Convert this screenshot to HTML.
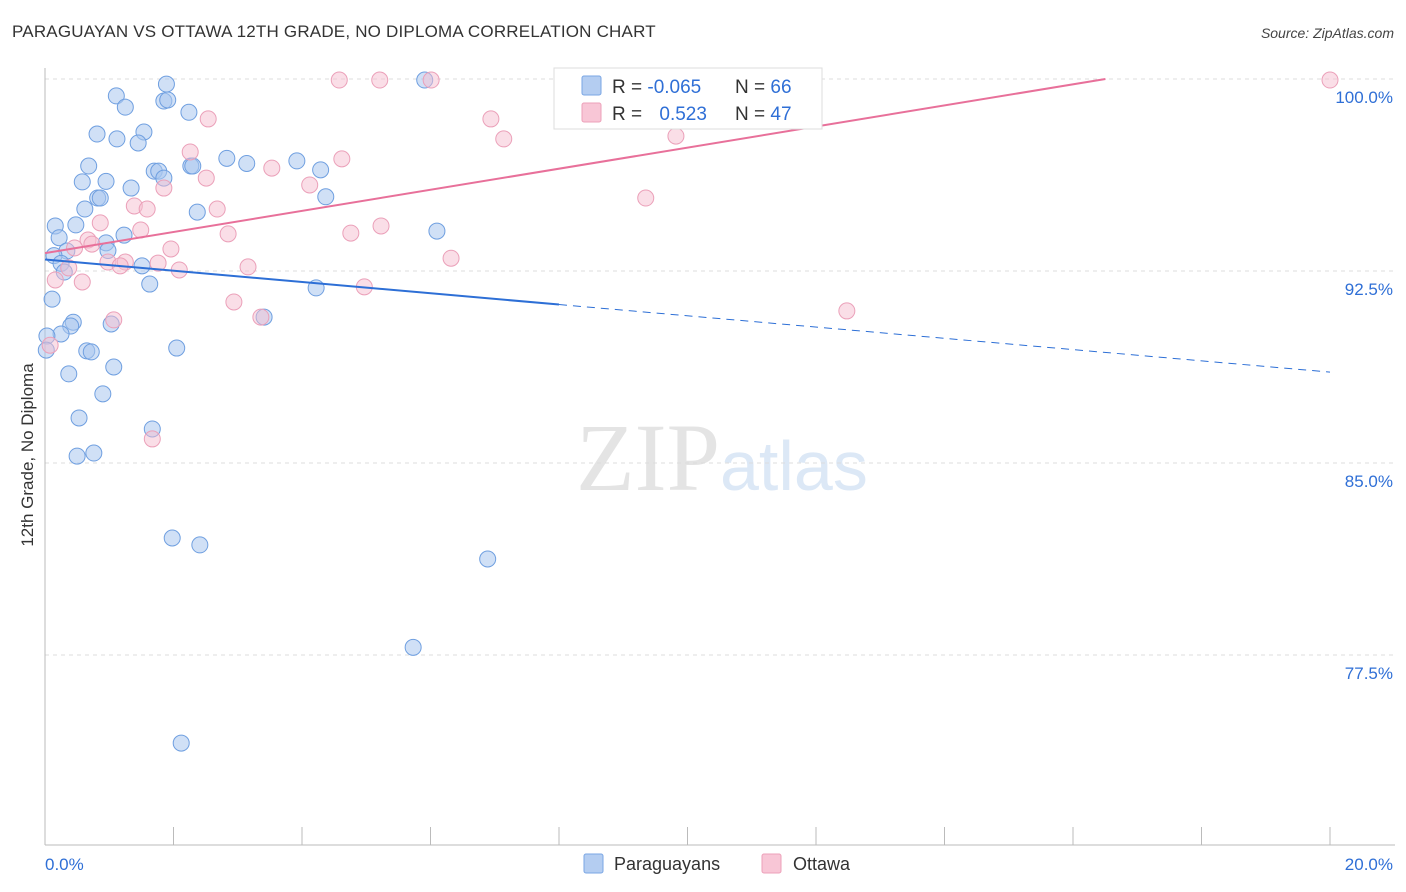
<!DOCTYPE html>
<html><head><meta charset="utf-8">
<style>
body{margin:0;background:#fff;font-family:"Liberation Sans",sans-serif;}
#wrap{position:relative;width:1406px;height:892px;overflow:hidden;}
.title{position:absolute;left:12px;top:22px;font-size:17px;color:#333;letter-spacing:0.2px}
.source{position:absolute;right:12px;top:25px;font-size:14px;color:#444;font-style:italic}
</style></head><body>
<div id="wrap">
<div class="title">PARAGUAYAN VS OTTAWA 12TH GRADE, NO DIPLOMA CORRELATION CHART</div>
<div class="source">Source: ZipAtlas.com</div>
<svg id="svg" width="1406" height="892" style="position:absolute;left:0;top:0">
<text x="720" y="490" font-family="Liberation Serif" font-size="96" fill="#e4e4e4" text-anchor="end">ZIP</text>
<text x="720" y="490" font-family="Liberation Sans" font-size="70" fill="#dce8f6">atlas</text>
<g id="grid"></g><g id="axes"></g><g id="pts"></g><g id="lines"></g>
<text x="33" y="455" transform="rotate(-90 33 455)" font-size="17" fill="#333" text-anchor="middle">12th Grade, No Diploma</text>
<g>
<rect x="554" y="68" width="268" height="61" fill="#fff" stroke="#ddd"/>
<rect x="582" y="76" width="19" height="19" fill="#b4cdf1" stroke="#7aa6e4" rx="2"/>
<rect x="582" y="103" width="19" height="19" fill="#f8c6d6" stroke="#eda0b9" rx="2"/>
<text x="612" y="93" font-size="19" fill="#333">R = <tspan fill="#2f6fd6">-0.065</tspan></text>
<text x="735" y="93" font-size="19" fill="#333">N = <tspan fill="#2f6fd6">66</tspan></text>
<text x="612" y="120" font-size="19" fill="#333">R = <tspan fill="#2f6fd6" dx="12">0.523</tspan></text>
<text x="735" y="120" font-size="19" fill="#333">N = <tspan fill="#2f6fd6">47</tspan></text>
</g>
<g>
<rect x="584" y="854" width="19" height="19" fill="#b4cdf1" stroke="#7aa6e4" rx="2"/>
<text x="614" y="870" font-size="18" fill="#333">Paraguayans</text>
<rect x="762" y="854" width="19" height="19" fill="#f8c6d6" stroke="#eda0b9" rx="2"/>
<text x="793" y="870" font-size="18" fill="#333">Ottawa</text>
</g>
</svg>
</div>
<script>
const blueX=[1.89,1.11,1.85,1.91,1.25,2.24,0.81,1.12,1.54,1.45,0.68,1.70,1.77,1.85,2.27,2.30,2.83,3.14,3.92,4.29,0.58,0.95,1.34,0.82,0.86,0.62,2.37,4.37,0.16,0.48,0.22,1.23,6.10,0.95,0.98,0.34,0.14,0.25,0.30,1.51,1.63,4.22,0.11,0.44,0.40,3.41,1.03,0.25,0.03,0.02,2.05,0.65,0.72,1.07,0.37,0.90,0.53,1.67,0.50,0.76,1.98,2.41,6.89,5.73,2.12,5.91];
const blueY=[99.8,99.34,99.14,99.18,98.9,98.7,97.85,97.66,97.93,97.5,96.6,96.4,96.4,96.13,96.6,96.6,96.9,96.7,96.8,96.45,95.98,96.0,95.74,95.35,95.35,94.92,94.8,95.4,94.26,94.3,93.8,93.9,94.06,93.6,93.3,93.28,93.1,92.8,92.46,92.7,91.99,91.84,91.4,90.5,90.35,90.7,90.43,90.04,89.96,89.41,89.49,89.38,89.34,88.75,88.48,87.7,86.76,86.33,85.27,85.39,82.07,81.8,81.25,77.8,74.06,99.96];
const pinkX=[4.58,5.21,6.01,11.52,20.0,8.3,2.54,6.94,7.14,9.82,2.26,4.62,3.53,2.51,4.12,1.85,9.35,1.39,1.59,2.68,0.86,5.23,1.49,2.85,4.76,0.67,0.46,0.73,1.96,6.32,0.98,1.25,1.76,1.17,0.37,2.09,3.16,0.16,0.58,4.97,2.94,3.36,1.07,12.48,0.08,1.67];
const pinkY=[99.96,99.96,99.96,99.96,99.96,100,98.44,98.44,97.66,97.77,97.15,96.88,96.52,96.13,95.86,95.74,95.35,95.04,94.92,94.92,94.38,94.26,94.1,93.95,93.98,93.71,93.4,93.55,93.36,93.0,92.85,92.85,92.81,92.7,92.62,92.54,92.66,92.15,92.07,91.88,91.29,90.7,90.59,90.94,89.6,85.94];
const yTicks=[100,92.5,85,77.5];
const yTickLabels=["100.0%","92.5%","85.0%","77.5%"];
const xTicks=[0,2,4,6,8,10,12,14,16,18,20];
const blueTrend=[92.95,88.55]; // value at x=0, x=20
const pinkTrend=[93.2,0.412]; // intercept, slope
const X=v=>45+v*64.25, Y=v=>79+(100-v)*25.6;
const NS="http://www.w3.org/2000/svg";
function mk(tag,attrs,parent){const e=document.createElementNS(NS,tag);for(const k in attrs)e.setAttribute(k,attrs[k]);document.getElementById(parent).appendChild(e);return e;}
yTicks.forEach((t,i)=>{
 const l=mk('line',{x1:45,x2:1395,y1:Y(t),y2:Y(t),stroke:'#ddd','stroke-dasharray':'4,4'},'grid');
 
 
 const tx=mk('text',{x:1393,y:Y(t)+24,'text-anchor':'end','font-size':17,fill:'#2f6fd6'},'grid');
 tx.textContent=yTickLabels[i];
 
 
});
let a=mk('line',{x1:45,x2:45,y1:68,y2:845,stroke:'#bbb'},'axes');


a=mk('line',{x1:45,x2:1395,y1:845,y2:845,stroke:'#bbb'},'axes');


xTicks.forEach(t=>{const l=mk('line',{x1:X(t),x2:X(t),y1:827,y2:845,stroke:'#bbb'},'axes');
 
 });
let t0=mk('text',{x:45,y:870,'font-size':17,fill:'#2f6fd6'},'axes');t0.textContent='0.0%';


t0=mk('text',{x:1393,y:870,'font-size':17,fill:'#2f6fd6','text-anchor':'end'},'axes');t0.textContent='20.0%';


blueX.forEach((x,i)=>{const c=mk('circle',{cx:X(x),cy:Y(blueY[i]),r:8,fill:'#a9c6ef','fill-opacity':0.55,stroke:'#6f9fe0','stroke-width':1},'pts');
 
 });
pinkX.forEach((x,i)=>{const c=mk('circle',{cx:X(x),cy:Y(pinkY[i]),r:8,fill:'#f6bdd0','fill-opacity':0.5,stroke:'#eba0b9','stroke-width':1},'pts');
 
 });
const bAt=x=>blueTrend[0]+(blueTrend[1]-blueTrend[0])*x/20;
let l=mk('line',{x1:X(0),y1:Y(bAt(0)),x2:X(8),y2:Y(bAt(8)),stroke:'#2d6fd6','stroke-width':2},'lines');


l=mk('line',{x1:X(8),y1:Y(bAt(8)),x2:X(20),y2:Y(bAt(20)),stroke:'#2d6fd6','stroke-width':1,'stroke-dasharray':'8,6'},'lines');


const pEnd=Math.min(20,(100-pinkTrend[0])/pinkTrend[1]);
l=mk('line',{x1:X(0),y1:Y(pinkTrend[0]),x2:X(pEnd),y2:Y(pinkTrend[0]+pinkTrend[1]*pEnd),stroke:'#e8709a','stroke-width':2},'lines');


</script>
</body></html>
